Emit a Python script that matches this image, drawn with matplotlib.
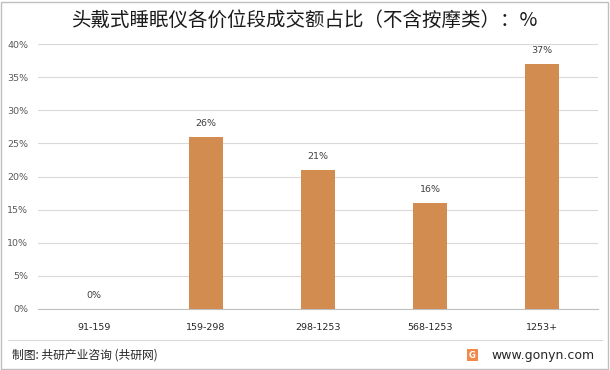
import matplotlib
matplotlib.use("Agg")
import matplotlib.pyplot as plt
from matplotlib.patches import Rectangle
from matplotlib.lines import Line2D

plt.rcParams['font.family'] = ['Noto Sans CJK SC', 'DejaVu Sans']

categories = ["91-159", "159-298", "298-1253", "568-1253", "1253+"]
values = [0, 26, 21, 16, 37]
yticks = [0, 5, 10, 15, 20, 25, 30, 35, 40]
title = "头戴式睡眠仪各价位段成交额占比（不含按摩类）：%"
source = "制图: 共研产业咨询 (共研网)"
site = "www.gonyn.com"

NUMFONT = ["DejaVu Sans"]

W, H = 610, 370
fig = plt.figure(figsize=(W/100, H/100), dpi=100)
fig.patch.set_facecolor("white")

ax = fig.add_axes([38/W, 1-309/H, 560/W, 265/H])
x = list(range(len(categories)))
ax.bar(x, values, width=0.31, color="#D38C4F", zorder=3)
for xi, v in zip(x, values):
    ax.text(xi, v + 1.3, f"{v}%", ha="center", va="bottom", fontsize=6.8,
            color="#404040", family=NUMFONT)
ax.set_xlim(-0.5, len(categories) - 0.5)
ax.set_ylim(0, 40)
ax.set_yticks(yticks)
ax.set_yticklabels([f"{t}%" for t in yticks], fontsize=6.8, color="#595959", family=NUMFONT)
ax.set_xticks(x)
ax.set_xticklabels(categories, fontsize=6.8, color="#262626", family=NUMFONT)
ax.tick_params(axis="y", length=0, pad=7)
ax.tick_params(axis="x", length=0, pad=10)
ax.yaxis.grid(True, color="#d9d9d9", linewidth=0.8, zorder=0)
for s in ["top", "right", "left"]:
    ax.spines[s].set_visible(False)
ax.spines["bottom"].set_color("#bfbfbf")
ax.spines["bottom"].set_linewidth(0.8)

fig.text(305/W, 1-20/H, title, ha="center", va="center", fontsize=14, color="#1a1a1a")

# border
fig.add_artist(Rectangle((1/W, 1/H), (W-3)/W, (H-3)/H, transform=fig.transFigure,
                         fill=False, edgecolor="#bfbfbf", linewidth=1))
# footer separator
fig.add_artist(Line2D([8/W, 602/W], [1-340/H, 1-340/H], transform=fig.transFigure,
                      color="#d9d9d9", linewidth=0.8))
fig.text(12/W, 1-355/H, source, ha="left", va="center", fontsize=8.5, color="#262626")
fig.add_artist(Rectangle((467/W, 1-361/H), 11/W, 12/H, transform=fig.transFigure,
                         facecolor="#F08A4B", edgecolor="none"))
fig.text(472.5/W, 1-355/H, "G", ha="center", va="center", fontsize=6, color="white",
         weight="bold", family=NUMFONT)
fig.text(491/W, 1-355/H, site, ha="left", va="center", fontsize=9, color="#262626",
         family=NUMFONT)

fig.savefig("out.png", dpi=100, facecolor="white")
